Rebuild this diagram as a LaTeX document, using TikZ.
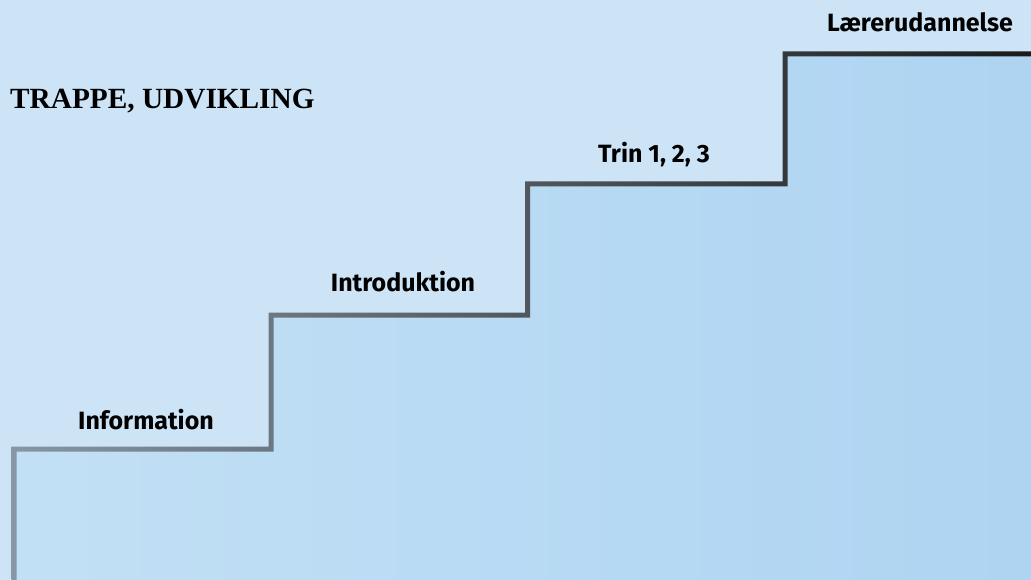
\documentclass[tikz,border=0pt]{standalone}
\usepackage{fontspec}
\setmainfont{Liberation Serif}
\newfontfamily\labelfont{Fira Sans}
\definecolor{bgtop}{HTML}{CDE4F7}
\definecolor{underA}{HTML}{C2E0F5}
\definecolor{underB}{HTML}{AED4F2}
\definecolor{lineA}{HTML}{8898A6}
\definecolor{lineB}{HTML}{3A3E43}
\definecolor{lineC}{HTML}{1A1A1A}
\begin{document}
\begin{tikzpicture}[x=1pt,y=-1pt,
  steplabel/.style={font=\labelfont\bfseries\fontsize{25}{25}\selectfont, anchor=base, inner sep=0pt},
  titlelabel/.style={font=\bfseries\fontsize{29.3}{29.3}\selectfont, anchor=base west, inner sep=0pt}]
\useasboundingbox (0,0) rectangle (1031,580);
\fill[bgtop] (0,0) rectangle (1031,580);
% stair corner points
\coordinate (p0) at (14,580);
\coordinate (p1) at (14,449);
\coordinate (p2) at (271,449);
\coordinate (p3) at (271,315);
\coordinate (p4) at (527.5,315);
\coordinate (p5) at (527.5,184);
\coordinate (p6) at (785,184);
\coordinate (p7) at (785,54);
\coordinate (p8) at (1031,54);
\coordinate (p9) at (1031,580);
% area under the stairs
\shade[left color=underA, right color=underB]
  (p0) -- (p1) -- (p2) -- (p3) -- (p4) -- (p5) -- (p6) -- (p7) -- (p8) -- (p9) -- cycle;
% stair line with colour gradient
\begin{scope}
\clip (11.5,582) -- (11.5,446.5) -- (268.5,446.5) -- (268.5,312.5) -- (525,312.5)
  -- (525,181.5) -- (782.5,181.5) -- (782.5,51.5) -- (1033,51.5) -- (1033,56.5)
  -- (787.5,56.5) -- (787.5,186.5) -- (530,186.5) -- (530,317.5) -- (273.5,317.5)
  -- (273.5,451.5) -- (16.5,451.5) -- (16.5,582) -- cycle;
\shade[left color=lineA, middle color=lineB, right color=lineC] (0,0) rectangle (1031,580);
\end{scope}
% labels
\node[titlelabel] (title) at (10,109) {TRAPPE, UDVIKLING};
\node[steplabel] (info) at (146,429) {Information};
\node[steplabel] (intro) at (403,291) {Introduktion};
\node[steplabel] (trin) at (654,163) {Trin 1, 2, 3};
\node[steplabel] (laerer) at (920,32) {Lærerudannelse};
\end{tikzpicture}
\end{document}
